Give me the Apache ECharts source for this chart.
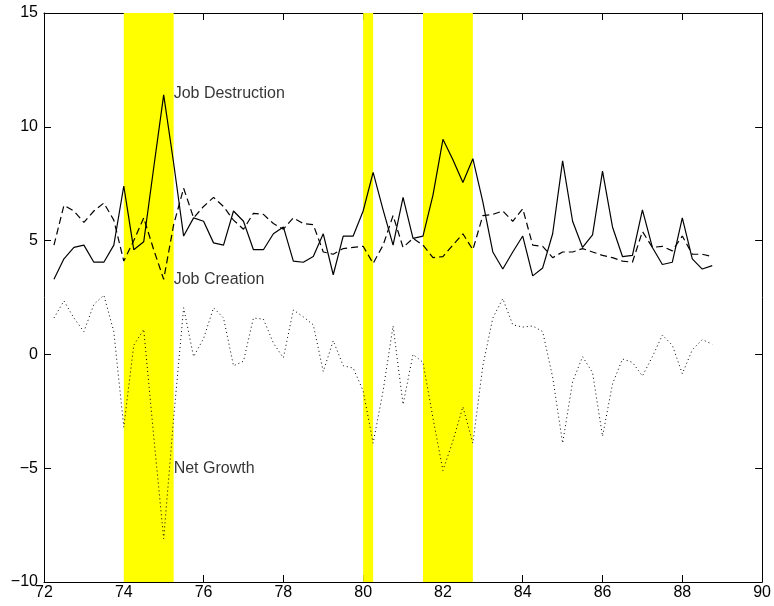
<!DOCTYPE html>
<html>
<head>
<meta charset="utf-8">
<script src="https://cdn.jsdelivr.net/npm/echarts@6/dist/echarts.min.js"></script>
<style>html,body{margin:0;padding:0;background:#fff}#c{width:774px;height:606px}</style>
</head>
<body>
<div id="c"></div>
<script>
const quarters = [72.25,72.5,72.75,73,73.25,73.5,73.75,74,74.25,74.5,74.75,75,75.25,75.5,75.75,76,76.25,76.5,76.75,77,77.25,77.5,77.75,78,78.25,78.5,78.75,79,79.25,79.5,79.75,80,80.25,80.5,80.75,81,81.25,81.5,81.75,82,82.25,82.5,82.75,83,83.25,83.5,83.75,84,84.25,84.5,84.75,85,85.25,85.5,85.75,86,86.25,86.5,86.75,87,87.25,87.5,87.75,88,88.25,88.5,88.75];
const jobDestruction = [3.3,4.2,4.7,4.8,4.05,4.05,4.8,7.4,4.6,4.95,8.2,11.4,8.4,5.2,6.0,5.85,4.9,4.8,6.3,5.85,4.6,4.6,5.3,5.6,4.1,4.05,4.3,5.3,3.5,5.2,5.2,6.3,8.0,6.35,4.8,6.9,5.1,5.2,7.0,9.45,8.55,7.55,8.6,6.7,4.5,3.75,4.5,5.2,3.45,3.8,5.3,8.5,5.85,4.7,5.25,8.05,5.6,4.3,4.35,6.35,4.7,3.95,4.05,6.0,4.2,3.75,3.9];
const jobCreation = [4.8,6.55,6.3,5.8,6.3,6.65,5.9,4.1,5.0,6.0,4.6,3.3,5.7,7.3,6.0,6.5,6.9,6.5,5.9,5.5,6.2,6.15,5.75,5.5,6.0,5.75,5.7,4.5,4.4,4.65,4.7,4.75,4.0,4.8,6.1,4.7,5.1,4.8,4.25,4.3,4.8,5.3,4.6,6.1,6.15,6.3,5.85,6.4,4.8,4.75,4.25,4.5,4.5,4.65,4.5,4.35,4.25,4.1,4.05,5.4,4.7,4.75,4.55,5.2,4.4,4.4,4.3];
const netGrowth = [1.6,2.35,1.6,1.0,2.2,2.6,1.0,-3.2,0.4,1.1,-3.6,-8.1,-2.8,2.05,-0.1,0.7,2.05,1.6,-0.5,-0.3,1.6,1.55,0.5,-0.15,1.95,1.65,1.3,-0.75,0.6,-0.5,-0.6,-1.6,-3.9,-1.6,1.25,-2.2,0.0,-0.35,-2.8,-5.1,-3.8,-2.3,-3.9,-0.5,1.6,2.45,1.3,1.2,1.25,1.0,-1.0,-3.9,-1.2,-0.1,-0.8,-3.6,-1.3,-0.2,-0.35,-0.95,-0.1,0.85,0.4,-0.85,0.2,0.65,0.45];
const recessions = [[74, 75.25], [80, 80.25], [81.5, 82.75]];
const labelNames = ['Job Destruction', 'Job Creation', 'Net Growth'];
const labelX = [75.25, 75.25, 75.25];
const labelY = [11.45, 3.27, -5.0];
const xTicks = {min: 72, max: 90, interval: 2};
const yTicks = {min: -10, max: 15, interval: 5};

const font = 'Liberation Sans, Arial, Helvetica, sans-serif';
const pair = (xs, ys) => xs.map((x, i) => [x, ys[i]]);
const fmtNum = v => (v < 0 ? '\u2212' + Math.abs(v) : String(v));

const chart = echarts.init(document.getElementById('c'), null, {renderer: 'canvas'});
const axisCommon = {
  axisLine: {show: true, onZero: false, lineStyle: {color: '#000', width: 1}},
  axisTick: {show: true, inside: true, length: 7, lineStyle: {color: '#000', width: 1}},
  splitLine: {show: false}
};
chart.setOption({
  animation: false,
  backgroundColor: '#fff',
  grid: {left: 44, right: 8, top: 13, bottom: 24, containLabel: false},
  xAxis: [
    Object.assign({type: 'value', position: 'bottom', min: xTicks.min, max: xTicks.max, interval: xTicks.interval,
      axisLabel: {color: '#000', fontFamily: font, fontSize: 16, margin: 3, formatter: fmtNum}}, axisCommon),
    Object.assign({type: 'value', position: 'top', min: xTicks.min, max: xTicks.max, interval: xTicks.interval,
      axisLabel: {show: false}}, axisCommon)
  ],
  yAxis: [
    Object.assign({type: 'value', position: 'left', min: yTicks.min, max: yTicks.max, interval: yTicks.interval,
      axisLabel: {color: '#000', fontFamily: font, fontSize: 16, margin: 6, formatter: fmtNum}}, axisCommon),
    Object.assign({type: 'value', position: 'right', min: yTicks.min, max: yTicks.max, interval: yTicks.interval,
      axisLabel: {show: false}}, axisCommon)
  ],
  series: [
    {
      type: 'line', data: [], z: 1, silent: true,
      markArea: {
        silent: true,
        itemStyle: {color: '#ffff00', opacity: 1},
        data: recessions.map(r => [{xAxis: r[0], yAxis: yTicks.min}, {xAxis: r[1], yAxis: yTicks.max}])
      }
    },
    {
      name: 'Job Destruction', type: 'line', z: 3, showSymbol: false, symbol: 'none',
      data: pair(quarters, jobDestruction),
      lineStyle: {color: '#000', width: 1.2, type: 'solid'}
    },
    {
      name: 'Job Creation', type: 'line', z: 3, showSymbol: false, symbol: 'none',
      data: pair(quarters, jobCreation),
      lineStyle: {color: '#000', width: 1.2, type: [7, 4]}
    },
    {
      name: 'Net Growth', type: 'line', z: 3, showSymbol: false, symbol: 'none',
      data: pair(quarters, netGrowth),
      lineStyle: {color: '#000', width: 1, type: [1, 3]}
    },
    {
      type: 'scatter', z: 4, symbolSize: 0, silent: true,
      data: labelNames.map((n, i) => ({value: [labelX[i], labelY[i]], name: n})),
      label: {show: true, position: 'right', distance: 0, formatter: p => p.name,
        color: '#000', fontFamily: font, fontSize: 16}
    }
  ]
});
</script>
</body>
</html>
